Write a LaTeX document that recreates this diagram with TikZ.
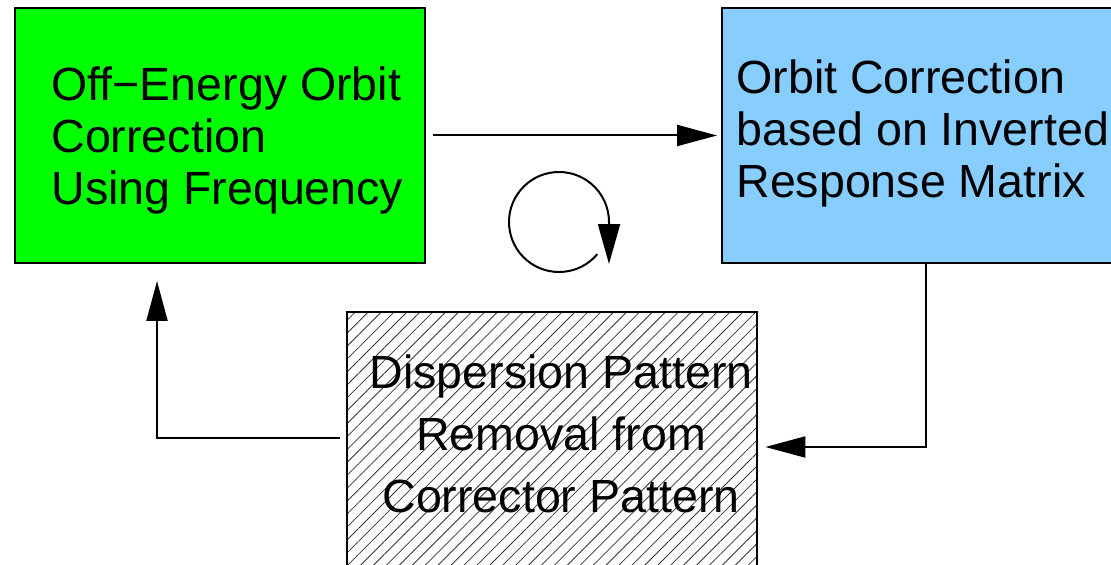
\documentclass[tikz,border=0pt]{standalone}
\usepackage{fontspec}
\setmainfont{Liberation Sans}
\usetikzlibrary{positioning,arrows.meta,patterns.meta}
\definecolor{brightgreen}{RGB}{0,255,0}
\definecolor{skyblue}{RGB}{135,206,255}

\begin{document}
\begin{tikzpicture}[x=0.02cm, y=-0.02cm, >={Triangle[length=0.8cm,width=0.42cm]}]
\fontsize{26.5}{29.6}\selectfont

\tikzstyle{block} = [draw, line width=0.04cm, black, minimum width=8.2cm, minimum height=5.1cm, inner sep=0pt]
\tikzstyle{lbl}   = [black, align=left, inner sep=0pt]
\tikzstyle{link}  = [line width=0.04cm, black]

\useasboundingbox (0,0) rectangle (1111,564);

\node [block, fill=brightgreen] (OffEnergy) at (220,135.5) {};
\node [block, fill=skyblue, minimum width=8.3cm] (OrbitCorr) at (929.5,135.5) {};
\node [block, minimum height=5.22cm, pattern={Lines[angle=45,distance=5.2pt,line width=0.45pt]}, pattern color=black!80] (DispRemoval) at (552,442.5) {};

\node [lbl, right=0.74cm of OffEnergy.west, yshift=-0.1cm] (OffEnergyTxt) {Off−Energy Orbit\\Correction\\Using Frequency};
\node [lbl, right=0.3cm of OrbitCorr.west, yshift=0.05cm] (OrbitCorrTxt) {Orbit Correction\\based on Inverted\\Response Matrix};
\node [lbl, align=center, font=\fontsize{26.5}{35.2}\selectfont, xshift=0.18cm, yshift=0.17cm] (DispRemovalTxt) at (DispRemoval) {Dispersion Pattern\\Removal from\\Corrector Pattern};

\draw [link, ->, shorten <=0.14cm, shorten >=0.08cm] (OffEnergy.east) -- (OrbitCorr.west);
\draw [link, ->, shorten >=0.16cm] ([xshift=-0.07cm]OrbitCorr.south) |- ([yshift=-0.09cm]DispRemoval.east);
\draw [link, ->] ([xshift=-0.14cm, yshift=0.09cm]DispRemoval.west) -| ([xshift=-1.26cm, yshift=-0.34cm]OffEnergy.south);

% iteration loop
\coordinate (LoopC) at (559,222);
\draw [link, ->, >={Triangle[length=0.8cm,width=0.44cm]}] (LoopC) ++(40:50) arc [start angle=40, end angle=360, radius=50] -- ++(0,42);
\end{tikzpicture}
\end{document}
